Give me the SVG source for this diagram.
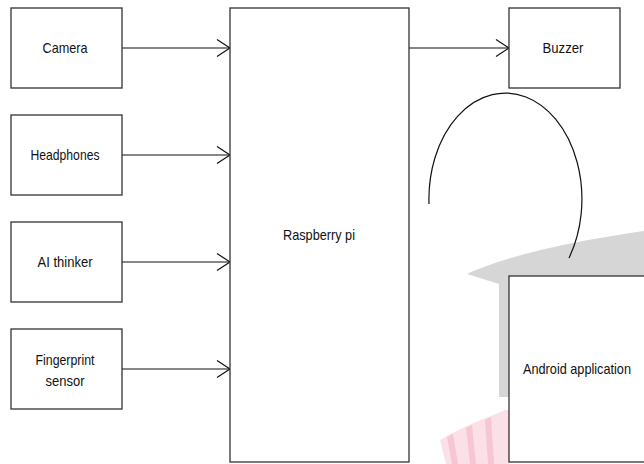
<svg xmlns="http://www.w3.org/2000/svg" width="644" height="464" viewBox="0 0 644 464">
<style>
.box{fill:#fff;stroke:#333;stroke-width:1.3}
.lbl{font-family:"Liberation Sans",Arial,sans-serif;font-size:15px;fill:#111;text-anchor:middle}
.conn{fill:none;stroke:#111;stroke-width:1.2}
</style>
<defs>
<marker id="arr" markerUnits="userSpaceOnUse" markerWidth="16" markerHeight="20" refX="14" refY="10" orient="auto" viewBox="0 0 16 20">
<path d="M1,1.5 L14,10 L1,18.5" fill="none" stroke="#111" stroke-width="1.2"/>
</marker>
</defs>
<rect width="644" height="464" fill="#fff"/>
<g id="watermark">
<path d="M467,274 C490,263 540,246 644,231 L644,300 L509,300 L509,397 L499,397 L499,284 Z" fill="#d6d6d6"/>
<path d="M440,440 C460,428 485,418 506,410 L509,410 L509,464 L446,464 Z" fill="#fbe0e7"/>
<path d="M447,437 L452,464 L458,464 L453,434 Z M466,428 L470,464 L476,464 L472,425 Z M485,420 L488,464 L494,464 L491,417 Z" fill="#f7c6d3"/>
</g>
<g id="connectors">
<line class="conn" x1="122" y1="48" x2="230" y2="48" marker-end="url(#arr)"/>
<line class="conn" x1="122" y1="155" x2="230" y2="155" marker-end="url(#arr)"/>
<line class="conn" x1="122" y1="262" x2="230" y2="262" marker-end="url(#arr)"/>
<line class="conn" x1="122" y1="369" x2="230" y2="369" marker-end="url(#arr)"/>
<line class="conn" x1="409" y1="48" x2="509" y2="48" marker-end="url(#arr)"/>
<path class="conn" d="M429,204 A76.5,106 0 1 1 569,258"/>
</g>
<g id="camera">
<rect class="box" x="11" y="8" width="111" height="80"/>
<text class="lbl" x="65" y="53" textLength="45" lengthAdjust="spacingAndGlyphs">Camera</text>
</g>
<g id="headphones">
<rect class="box" x="11" y="115" width="111" height="80"/>
<text class="lbl" x="65" y="160" textLength="69" lengthAdjust="spacingAndGlyphs">Headphones</text>
</g>
<g id="ai-thinker">
<rect class="box" x="11" y="222" width="111" height="80"/>
<text class="lbl" x="65" y="267" textLength="55" lengthAdjust="spacingAndGlyphs">AI thinker</text>
</g>
<g id="fingerprint">
<rect class="box" x="11" y="329" width="111" height="80"/>
<text class="lbl" x="65" y="365" textLength="59" lengthAdjust="spacingAndGlyphs">Fingerprint</text>
<text class="lbl" x="65" y="386" textLength="39" lengthAdjust="spacingAndGlyphs">sensor</text>
</g>
<g id="raspberry-pi">
<rect class="box" x="230" y="8" width="179" height="454"/>
<text class="lbl" x="319" y="240" textLength="72" lengthAdjust="spacingAndGlyphs">Raspberry pi</text>
</g>
<g id="buzzer">
<rect class="box" x="509" y="8" width="111" height="80"/>
<text class="lbl" x="563" y="53" textLength="41" lengthAdjust="spacingAndGlyphs">Buzzer</text>
</g>
<g id="android-application">
<rect class="box" x="509" y="276" width="136" height="186"/>
<text class="lbl" x="577" y="374" textLength="108" lengthAdjust="spacingAndGlyphs">Android application</text>
</g>
</svg>
